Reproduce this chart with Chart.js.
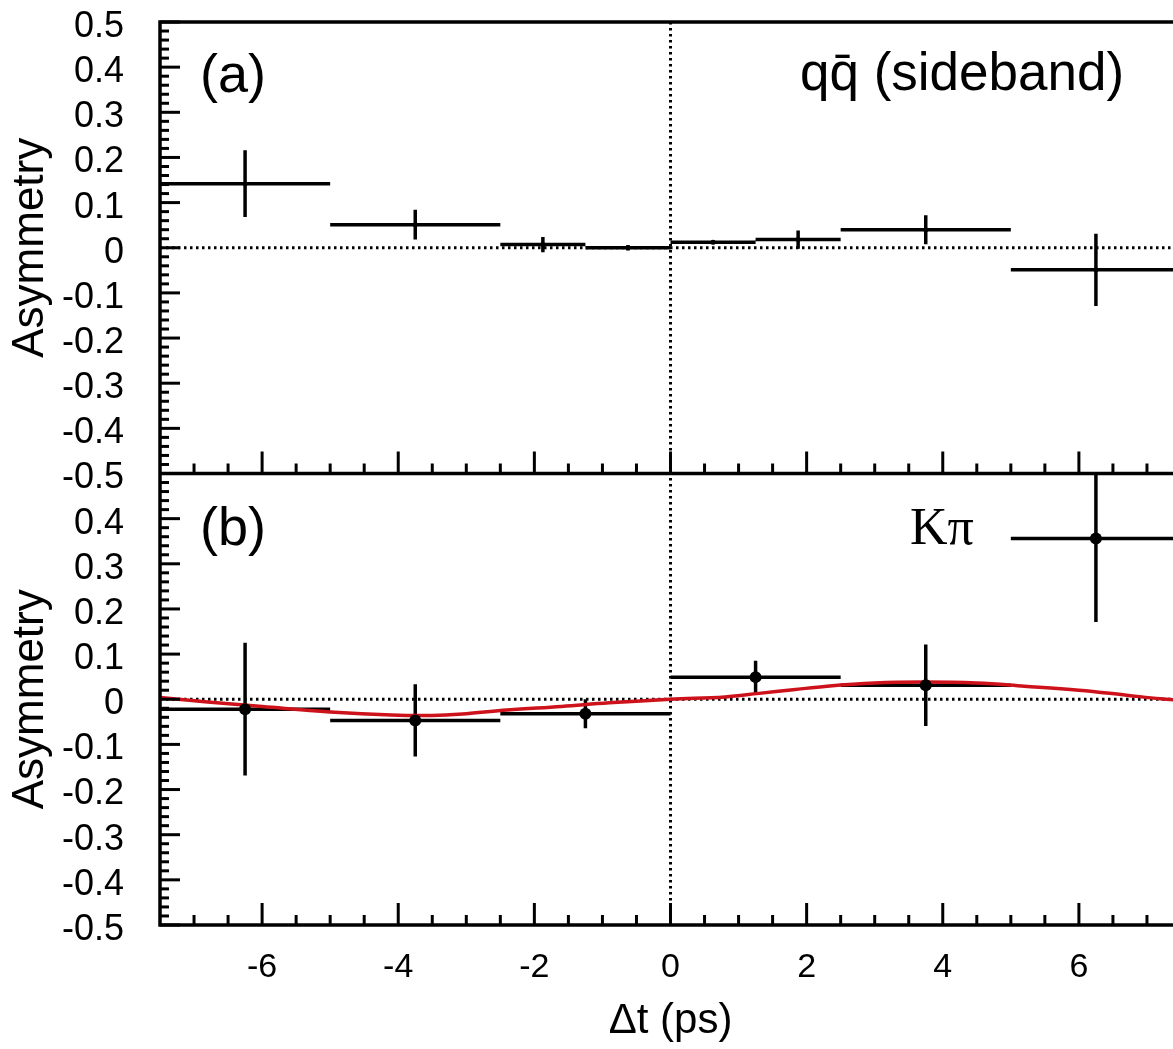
<!DOCTYPE html>
<html>
<head>
<meta charset="utf-8">
<title>Asymmetry vs Δt</title>
<script src="https://cdn.jsdelivr.net/npm/chart.js@4.4.1/dist/chart.umd.min.js"></script>
<style>
  html, body { margin: 0; padding: 0; background: #fff; overflow: hidden; }
  #wrap { position: relative; width: 1200px; height: 1049px; }
</style>
</head>
<body>
<div id="wrap"><canvas id="asymChart" width="1200" height="1049"></canvas></div>
<script>
// panel (a): q qbar sideband, bins in dt (ps)
const binLowA  = [-7.5, -5.0, -2.5, -1.25, 0.0, 1.25, 2.5, 5.0];
const binHighA = [-5.0, -2.5, -1.25, 0.0, 1.25, 2.5, 5.0, 7.5];
const asymA    = [0.142, 0.051, 0.007, 0.000, 0.012, 0.018, 0.040, -0.049];
const errA     = [0.074, 0.033, 0.017, 0.006, 0.004, 0.020, 0.032, 0.080];

// panel (b): K pi
const binLowB  = [-7.5, -5.0, -2.5, 0.0, 2.5, 5.0];
const binHighB = [-5.0, -2.5, 0.0, 2.5, 5.0, 7.5];
const asymB    = [-0.022, -0.047, -0.032, 0.049, 0.031, 0.356];
const errB     = [0.147, 0.080, 0.032, 0.036, 0.090, 0.185];

// fit curve (red) in panel (b)
const fitT = [-7.5, -6.8, -6.0, -5.0, -4.1, -3.5, -3.0, -2.4, -1.6, -0.9, 0.0, 0.8, 1.3, 1.8, 2.3, 3.0, 3.7, 4.5, 5.2, 6.0, 6.7, 7.2, 7.5];
const fitA = [0.004, -0.006, -0.016, -0.028, -0.035, -0.036, -0.032, -0.024, -0.016, -0.008, 0.000, 0.005, 0.013, 0.021, 0.029, 0.036, 0.038, 0.036, 0.029, 0.020, 0.009, 0.001, -0.002];

// tick labels
const xTicks  = [-6, -4, -2, 0, 2, 4, 6];
const yTicksA = [0.5, 0.4, 0.3, 0.2, 0.1, 0, -0.1, -0.2, -0.3, -0.4, -0.5];
const yTicksB = [0.4, 0.3, 0.2, 0.1, 0, -0.1, -0.2, -0.3, -0.4, -0.5];

const Y_MIN = -0.5, Y_MAX = 0.5;
const FONT = 'Liberation Sans';

// horizontal bin-width bars, broken with nulls
function hBars(lo, hi, val) {
  const pts = [];
  for (let i = 0; i < val.length; i++) {
    pts.push({x: lo[i], y: val[i]}, {x: hi[i], y: val[i]}, {x: hi[i], y: null});
  }
  return pts;
}
// vertical error bars at bin centre, clamped to the panel
function vBars(lo, hi, val, err) {
  const pts = [];
  for (let i = 0; i < val.length; i++) {
    const c = (lo[i] + hi[i]) / 2;
    pts.push({x: c, y: Math.max(val[i] - err[i], Y_MIN)},
             {x: c, y: Math.min(val[i] + err[i], Y_MAX)},
             {x: c, y: null});
  }
  return pts;
}
function centres(lo, hi, val) {
  return val.map((v, i) => ({x: (lo[i] + hi[i]) / 2, y: v}));
}

const barStyle = {
  borderColor: '#000', borderWidth: 3.5, pointRadius: 0, spanGaps: false,
  fill: false, tension: 0, order: 2, borderCapStyle: 'butt'
};

// frame, inward ticks and dotted zero lines
const frameTicks = {
  id: 'frameTicks',
  beforeDatasetsDraw(chart) {
    const {ctx, chartArea: a, scales} = chart;
    ctx.save();
    ctx.strokeStyle = '#000';
    ctx.lineWidth = 3;
    ctx.setLineDash([2.5, 3.5]);
    ['yA', 'yB'].forEach(id => {
      const py = scales[id].getPixelForValue(0);
      ctx.beginPath(); ctx.moveTo(a.left, py); ctx.lineTo(a.right, py); ctx.stroke();
    });
    const px0 = scales.x.getPixelForValue(0);
    ctx.beginPath(); ctx.moveTo(px0, a.top); ctx.lineTo(px0, a.bottom); ctx.stroke();
    ctx.restore();
  },
  afterDatasetsDraw(chart) {
    const {ctx, chartArea: a, scales} = chart;
    const x = scales.x;
    ctx.save();
    ctx.strokeStyle = '#000';
    ctx.lineWidth = 3;
    ['yA', 'yB'].forEach(id => {
      const s = scales[id];
      // y ticks every 0.02, major every 0.1
      for (let k = -25; k <= 25; k++) {
        const py = s.getPixelForValue(k / 50);
        const len = (k % 5 === 0) ? 20 : 9;
        ctx.beginPath(); ctx.moveTo(a.left, py); ctx.lineTo(a.left + len, py); ctx.stroke();
      }
      // x ticks every 0.5, major every 2
      const pb = s.getPixelForValue(Y_MIN);
      for (let k = -14; k <= 14; k++) {
        const px = x.getPixelForValue(k / 2);
        const len = (k % 4 === 0) ? 22 : 10;
        ctx.beginPath(); ctx.moveTo(px, pb); ctx.lineTo(px, pb - len); ctx.stroke();
      }
    });
    // frame
    ctx.lineWidth = 3.5;
    const mid = scales.yA.getPixelForValue(Y_MIN);
    ctx.beginPath();
    ctx.moveTo(a.right, a.top); ctx.lineTo(a.left, a.top); ctx.lineTo(a.left, a.bottom); ctx.lineTo(a.right, a.bottom);
    ctx.moveTo(a.left, mid); ctx.lineTo(a.right, mid);
    ctx.stroke();
    ctx.restore();
  },
  afterDraw(chart) {
    const {ctx, chartArea: a, scales} = chart;
    const topB = scales.yB.getPixelForValue(Y_MAX);
    ctx.save();
    ctx.fillStyle = '#000';
    ctx.textBaseline = 'alphabetic';
    ctx.textAlign = 'left';
    ctx.font = '54px "' + FONT + '"';
    ctx.fillText('(a)', a.left + 40, a.top + 70);
    ctx.fillText('(b)', a.left + 40, topB + 71);
    ctx.font = '53px "' + FONT + '"';
    ctx.fillText('qq\u0304 (sideband)', 800, a.top + 68);
    ctx.font = '52px "Liberation Serif"';
    ctx.fillText('K\u03c0', 910, topB + 70);
    ctx.restore();
  }
};

function yAxis(ticks) {
  return {
    type: 'linear', position: 'left', stack: 'panels', stackWeight: 1,
    min: Y_MIN, max: Y_MAX,
    grid: {display: false, drawTicks: false},
    border: {display: false},
    afterBuildTicks: s => { s.ticks = ticks.map(v => ({value: v})); },
    afterFit: s => { s.width = 160; s.paddingTop = 0; s.paddingBottom = 0; },
    ticks: {
      font: {family: FONT, size: 36}, color: '#000', padding: 36, labelOffset: 5,
      autoSkip: false, callback: v => String(v)
    },
    title: {
      display: true, text: 'Asymmetry', color: '#000',
      font: {family: FONT, size: 44}, padding: {top: 4, bottom: 0}
    }
  };
}

new Chart(document.getElementById('asymChart'), {
  type: 'line',
  data: {
    datasets: [
      Object.assign({label: 'qq sideband bins', data: hBars(binLowA, binHighA, asymA), xAxisID: 'x', yAxisID: 'yA'}, barStyle),
      Object.assign({label: 'qq sideband errors', data: vBars(binLowA, binHighA, asymA, errA), xAxisID: 'x', yAxisID: 'yA'}, barStyle),
      {label: 'qq sideband', data: centres(binLowA, binHighA, asymA), xAxisID: 'x', yAxisID: 'yA',
       showLine: false, pointRadius: 2.5, pointBackgroundColor: '#000', pointBorderWidth: 0, order: 0},
      Object.assign({label: 'Kpi bins', data: hBars(binLowB, binHighB, asymB), xAxisID: 'x', yAxisID: 'yB'}, barStyle),
      Object.assign({label: 'Kpi errors', data: vBars(binLowB, binHighB, asymB, errB), xAxisID: 'x', yAxisID: 'yB'}, barStyle),
      {label: 'fit', data: fitT.map((t, i) => ({x: t, y: fitA[i]})), xAxisID: 'x', yAxisID: 'yB',
       borderColor: 'rgb(205,18,28)', borderWidth: 3.5, pointRadius: 0, tension: 0.4, fill: false, order: 1},
      {label: 'Kpi', data: centres(binLowB, binHighB, asymB), xAxisID: 'x', yAxisID: 'yB',
       showLine: false, pointRadius: 6, pointBackgroundColor: '#000', pointBorderWidth: 0, order: 0}
    ]
  },
  options: {
    responsive: false,
    animation: false,
    layout: {padding: {top: 22, right: 19, bottom: 0, left: 0}},
    plugins: {legend: {display: false}, tooltip: {enabled: false}},
    scales: {
      x: {
        type: 'linear', min: -7.5, max: 7.5,
        grid: {display: false, drawTicks: false},
        border: {display: false},
        afterBuildTicks: s => { s.ticks = xTicks.map(v => ({value: v})); },
        afterFit: s => { s.height = 124; s.paddingLeft = 0; s.paddingRight = 0; },
        ticks: {
          font: {family: FONT, size: 34}, color: '#000', padding: 22,
          maxRotation: 0, autoSkip: false, callback: v => String(v)
        },
        title: {
          display: true, text: 'Δt (ps)', color: '#000',
          font: {family: FONT, size: 42}, padding: {top: 0, bottom: 2}
        }
      },
      // the stack places the last-listed axis on top
      yB: yAxis(yTicksB),
      yA: yAxis(yTicksA)
    }
  },
  plugins: [frameTicks]
});
</script>
</body>
</html>
